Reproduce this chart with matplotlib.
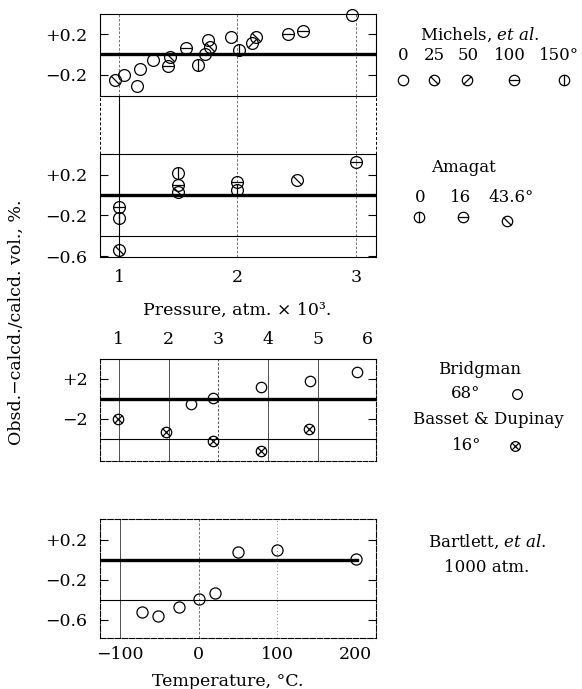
# importamos las librerías necesarias
import matplotlib
matplotlib.use('Agg')
import matplotlib.pyplot as plt
from matplotlib.path import Path
from matplotlib.lines import Line2D

# estilo general: letra con serifa, fondo blanco
plt.rcParams['font.family'] = 'DejaVu Serif'
plt.rcParams['mathtext.fontset'] = 'dejavuserif'
plt.rcParams['axes.linewidth'] = 0.8

# ---------------- datos ----------------
# Michels et al.: presión (atm x 10^3), desviación (%), temperatura (°C)
mich_p = [0.97, 1.04, 1.15, 1.18, 1.29, 1.43, 1.41, 1.57, 1.67, 1.73,
          1.75, 1.77, 1.95, 2.01, 2.12, 2.16, 2.43, 2.55, 2.97]
mich_v = [-0.25, -0.20, -0.31, -0.14, -0.05, -0.02, -0.11, 0.06, -0.10, 0.00,
          0.14, 0.07, 0.17, 0.04, 0.11, 0.17, 0.20, 0.23, 0.39]
mich_t = [25, 0, 0, 0, 0, 25, 100, 100, 150, 100,
          0, 25, 0, 150, 50, 25, 100, 100, 0]
mich_temps = [0, 25, 50, 100, 150]

# Amagat
amag_p = [1.0, 1.0, 1.0, 1.5, 1.5, 1.5, 2.0, 2.0, 2.5, 3.0]
amag_v = [-0.12, -0.22, -0.54, 0.21, 0.10, 0.03, 0.05, 0.13, 0.15, 0.32]
amag_t = [16, 0, 43.6, 0, 16, 43.6, 0, 16, 43.6, 16]
amag_temps = [0, 16, 43.6]

# Bridgman (68°) y Basset & Dupinay (16°)
bridg_p = [2.45, 2.90, 3.86, 4.84, 5.79]
bridg_v = [-0.5, 0.1, 1.2, 1.8, 2.7]
basset_p = [0.99, 1.94, 2.89, 3.86, 4.82]
basset_v = [-2.0, -3.3, -4.2, -5.2, -3.0]

# Bartlett et al., 1000 atm
bart_t = [-72, -52, -25, 0, 21, 50, 100, 200]
bart_v = [-0.52, -0.56, -0.47, -0.39, -0.33, 0.08, 0.10, 0.01]

# etiquetas de los ejes
ticks_p = [1, 2, 3]
ticks_p2 = [1, 2, 3, 4, 5, 6]
ticks_t = [-100, 0, 100, 200]

# ---------------- símbolos ----------------
d = 0.707


def simbolo(*segs):  # círculo con uno o más trazos dentro
    partes = [Path(s, [Path.MOVETO, Path.LINETO]) for s in segs]
    return Path.make_compound_path(Path.unit_circle(), *partes)


m_barra = simbolo([(-d, -d), (d, d)])      # /
m_contra = simbolo([(-d, d), (d, -d)])     # \
m_horiz = simbolo([(-1, 0), (1, 0)])       # ⊖
m_vert = simbolo([(0, -1), (0, 1)])        # ⦶
m_cruz = simbolo([(-d, -d), (d, d)], [(-d, d), (d, -d)])  # ⊗

mk_mich = {0: 'o', 25: m_contra, 50: m_barra, 100: m_horiz, 150: m_vert}
mk_amag = {0: m_vert, 16: m_horiz, 43.6: m_contra}

# ---------------- figura ----------------
W, H = 582, 689
fig = plt.figure(figsize=(W / 100, H / 100), dpi=100)


def ejes(izq, arr, der, aba):  # ejes en coordenadas de píxel
    ax = fig.add_axes([izq / W, 1 - aba / H, (der - izq) / W, (aba - arr) / H])
    ax.set_facecolor('none')
    return ax


def formato(ax):
    ax.tick_params(axis='y', direction='in', length=6, width=0.8,
                   left=True, right=True, labelsize=12.5, pad=9)
    ax.tick_params(axis='x', length=0, labelsize=12.5)
    for s in ax.spines.values():
        s.set_linewidth(0.8)


def puntos(ax, x, y, mk, ms=8.5):
    ax.plot(x, y, ls='none', marker=mk, ms=ms, mfc='none', mec='black',
            mew=0.9, clip_on=False, zorder=5)


gruesa = dict(color='black', lw=2.4, zorder=3)
fina = dict(color='black', lw=0.8, zorder=2)
rejilla = dict(color='0.35', lw=0.6, ls=(0, (3, 2)), zorder=1)
xlim_p = (0.84, 3.17)

# --- Michels ---
ax1 = ejes(100, 14, 376, 96)
formato(ax1)
ax1.set_xlim(*xlim_p)
ax1.set_ylim(-0.41, 0.40)
ax1.set_xticks([])
ax1.set_yticks([0.2, -0.2], ['+0.2', '\u22120.2'])
ax1.axhline(0, **gruesa)
for xp in ticks_p:
    ax1.axvline(xp, **rejilla)
for t in mich_temps:
    idx = [i for i, tt in enumerate(mich_t) if tt == t]
    puntos(ax1, [mich_p[i] for i in idx], [mich_v[i] for i in idx], mk_mich[t])

# --- Amagat ---
ax2 = ejes(100, 96, 376, 257)
formato(ax2)
ax2.set_xlim(*xlim_p)
ax2.set_ylim(-0.605, 0.966)
ax2.spines['top'].set_visible(False)
ax2.spines['left'].set_bounds(-0.605, 0.4)
ax2.spines['right'].set_bounds(-0.605, 0.4)
for xb in xlim_p:
    ax2.plot([xb, xb], [0.4, 0.966], color='black', lw=0.7, ls=(0, (3, 2)), clip_on=False)
ax2.set_xticks(ticks_p, [str(v) for v in ticks_p])
ax2.tick_params(axis='x', pad=9)
ax2.set_yticks([0.2, -0.2, -0.6], ['+0.2', '\u22120.2', '\u22120.6'])
ax2.axhline(0, **gruesa)
ax2.axhline(0.4, **fina)
ax2.axhline(-0.4, **fina)
ax2.axvline(1, **fina)
ax2.axvline(2, **rejilla)
ax2.axvline(3, **rejilla)
for t in amag_temps:
    idx = [i for i, tt in enumerate(amag_t) if tt == t]
    puntos(ax2, [amag_p[i] for i in idx], [amag_v[i] for i in idx], mk_amag[t])

# --- Bridgman / Basset & Dupinay ---
ax3 = ejes(100, 359, 376, 461)
formato(ax3)
ax3.set_xlim(0.62, 6.17)
ax3.set_ylim(-6.2, 4.0)
ax3.xaxis.tick_top()
ax3.set_xticks(ticks_p2, [str(v) for v in ticks_p2])
ax3.tick_params(axis='x', pad=8)
ax3.set_yticks([2, -2], ['+2', '\u22122'])
for s in ['left', 'right', 'bottom']:
    ax3.spines[s].set_linestyle((0, (4, 1.5)))
ax3.axhline(0, **gruesa)
ax3.axhline(-4, **fina)
for xp, estilo in zip(ticks_p2[:5], ['-', '-', (0, (3, 2)), '-', '-']):
    ax3.axvline(xp, color='0.2', lw=0.6, ls=estilo, zorder=1)
puntos(ax3, bridg_p, bridg_v, 'o', ms=7.5)
puntos(ax3, basset_p, basset_v, m_cruz, ms=7.5)

# --- Bartlett ---
ax4 = ejes(100, 519, 376, 638)
formato(ax4)
ax4.set_xlim(-125.5, 226)
ax4.set_ylim(-0.78, 0.41)
ax4.set_xticks(ticks_t, [str(v).replace('-', '\u2212') for v in ticks_t])
ax4.tick_params(axis='x', pad=6)
ax4.set_yticks([0.2, -0.2, -0.6], ['+0.2', '\u22120.2', '\u22120.6'])
for s in ['left', 'right', 'bottom', 'top']:
    ax4.spines[s].set_linestyle((0, (5, 1.5)))
ax4.axhline(0, xmax=0.93, **gruesa)
ax4.axhline(-0.4, **fina)
ax4.axvline(-100, color='0.2', lw=0.6, zorder=1)
ax4.axvline(0, **rejilla)
ax4.axvline(100, color='0.35', lw=0.6, ls=(0, (1, 3)), zorder=1)
puntos(ax4, bart_t, bart_v, 'o', ms=8)

# ---------------- textos ----------------
def texto(x, y, s, **kw):  # texto en coordenadas de píxel
    kw.setdefault('ha', 'center')
    kw.setdefault('va', 'center')
    kw.setdefault('fontsize', 12)
    fig.text(x / W, 1 - y / H, s, **kw)


def marca(x, y, mk, ms=7.5):
    fig.add_artist(Line2D([x / W], [1 - y / H], ls='none', marker=mk, ms=ms,
                          mfc='none', mec='black', mew=0.9, transform=fig.transFigure))


texto(237, 310, 'Pressure, atm. \u00d7 10\u00b3.', fontsize=12.5)
texto(228, 681, 'Temperature, \u00b0C.', fontsize=12.5)
texto(16, 322, 'Obsd.\u2212calcd./calcd. vol., %.', rotation=90, fontsize=12.5)

# leyenda Michels
texto(480, 35, r'Michels, $\mathit{et\ al.}$')
for x, lab in zip([403, 434, 468, 510], ['0', '25', '50', '100']):
    texto(x, 55, lab)
texto(539, 55, '150\u00b0', ha='left')
for x, t in zip([403, 434, 467, 514, 564], mich_temps):
    marca(x, 80, mk_mich[t])

# leyenda Amagat
texto(463, 168, 'Amagat')
texto(420, 197, '0')
texto(461, 197, '16')
texto(511, 197, '43.6\u00b0')
for x, y, t in zip([419, 463, 507], [217, 217, 221], amag_temps):
    marca(x, y, mk_amag[t])

# leyenda Bridgman / Basset
texto(480, 369, 'Bridgman')
texto(466, 394, '68\u00b0')
marca(517, 394, 'o', ms=7)
texto(488, 419, 'Basset & Dupinay')
texto(467, 446, '16\u00b0')
marca(515, 446, m_cruz, ms=7)

# leyenda Bartlett
texto(487, 542, r'Bartlett, $\mathit{et\ al.}$')
texto(487, 568, '1000 atm.')

fig.savefig('out.png', dpi=100, facecolor='white')
